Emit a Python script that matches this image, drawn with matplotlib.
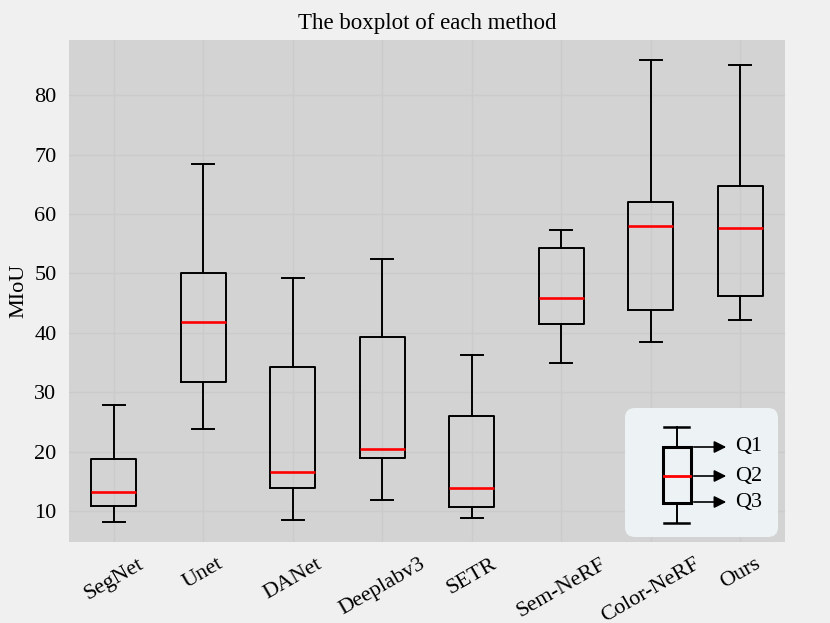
import matplotlib.pyplot as plt
from matplotlib.patches import FancyBboxPatch, Rectangle

methods = ["SegNet", "Unet", "DANet", "Deeplabv3", "SETR", "Sem-NeRF", "Color-NeRF", "Ours"]
whisker_low = [8.15, 23.85, 8.5, 11.85, 8.9, 34.9, 38.45, 42.2]
q1 = [10.8, 31.7, 13.9, 18.9, 10.7, 41.5, 43.8, 46.25]
median = [13.15, 41.8, 16.6, 20.5, 13.9, 45.85, 58.05, 57.6]
q3 = [18.8, 50.0, 34.3, 39.35, 26.05, 54.3, 62.1, 64.7]
whisker_high = [27.85, 68.4, 49.2, 52.4, 36.3, 57.25, 85.9, 85.1]

plt.rcParams['font.family'] = ['Liberation Serif', 'DejaVu Serif']

stats = []
for i, name in enumerate(methods):
    stats.append({"label": name, "whislo": whisker_low[i], "q1": q1[i], "med": median[i],
                  "q3": q3[i], "whishi": whisker_high[i], "fliers": []})

fig = plt.figure(figsize=(8.3, 6.23), dpi=100, facecolor="#f0f0f0")
ax = fig.add_axes([0.0831, 0.130, 0.8627, 0.8058])
ax.set_facecolor("#d3d3d3")
ax.bxp(stats, widths=0.5, showfliers=False,
       boxprops=dict(color="black", linewidth=1.4),
       whiskerprops=dict(color="black", linewidth=1.4),
       capprops=dict(color="black", linewidth=1.4),
       medianprops=dict(color="red", linewidth=1.9))
ax.set_ylim(4.78, 89.3)
ax.set_xlim(0.5, len(methods) + 0.5)
ax.set_yticks([10, 20, 30, 40, 50, 60, 70, 80])
ax.grid(True, color="#cbcbcb", linewidth=1)
ax.set_axisbelow(True)
for s in ax.spines.values():
    s.set_visible(False)
ax.tick_params(length=0, labelsize=16, pad=9)
plt.setp(ax.get_xticklabels(), rotation=30, ha="center")
ax.set_ylabel("MIoU", fontsize=16)
ax.set_title("The boxplot of each method", fontsize=16.5, pad=8)

# legend sketch explaining the quartiles
lg = fig.add_axes([0, 0, 1, 1])
lg.set_xlim(0, 830)
lg.set_ylim(623, 0)
lg.axis("off")
lg.add_patch(FancyBboxPatch((625, 408), 153, 129, boxstyle="round,pad=0,rounding_size=10",
                            facecolor="#edf3f5", edgecolor="none"))
lg.add_patch(Rectangle((663, 447), 28, 56, facecolor="none", edgecolor="black", linewidth=2.2))
lg.plot([664, 690], [476, 476], color="red", linewidth=2)
lg.plot([677, 677], [427, 447], color="black", linewidth=1.4)
lg.plot([677, 677], [503, 523], color="black", linewidth=1.4)
lg.plot([664, 689], [427, 427], color="black", linewidth=1.8)
lg.plot([664, 689], [523, 523], color="black", linewidth=1.8)
for y, t in zip([447, 476, 502], ["Q1", "Q2", "Q3"]):
    lg.annotate("", xy=(729, y), xytext=(691, y),
                arrowprops=dict(arrowstyle="-|>", color="black", linewidth=1.2, mutation_scale=18))
    lg.text(735, y, t, fontsize=16, va="center", ha="left")

fig.savefig("out.png", dpi=100, facecolor=fig.get_facecolor())
